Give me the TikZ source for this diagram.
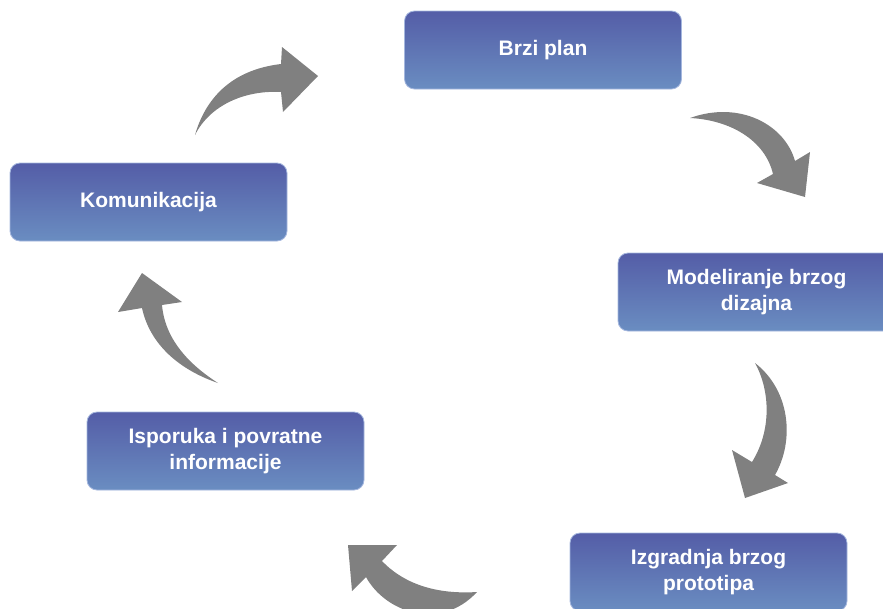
\documentclass[tikz,border=0pt]{standalone}
\usepackage{fontspec}
\setmainfont{Liberation Sans}
\usepackage{xcolor}
\definecolor{boxtop}{RGB}{84,93,167}
\definecolor{boxbot}{RGB}{106,141,193}
\definecolor{boxline}{RGB}{165,183,222}
\definecolor{arrowgray}{RGB}{128,128,128}
\begin{document}
\begin{tikzpicture}[x=1pt,y=-1pt]
\tikzstyle{phase}=[rectangle,rounded corners=10pt,minimum width=277pt,minimum height=78pt,
  top color=boxtop,bottom color=boxbot,draw=boxline,line width=0.8pt,
  text=white,align=center,font=\fontsize{21}{26}\selectfont\bfseries]
\tikzstyle{bigarrow}=[fill=arrowgray,draw=none]
\useasboundingbox (0,0) rectangle (883,608);
\clip (0,0) rectangle (883,608);

\node[phase] (plan)  at (543,50)    {Brzi plan};
\node[phase] (model) at (756.5,292) {Modeliranje brzog\\dizajna};
\node[phase] (izg)   at (708.5,572) {Izgradnja brzog\\prototipa};
\node[phase] (isp)   at (225.5,451) {Isporuka i povratne\\informacije};
\node[phase] (kom)   at (148.5,202) {Komunikacija};

\path[bigarrow] (195,135) .. controls (205,100) and (230,70) .. (281,64) -- (282,47) -- (318,76)
  -- (283,112) -- (281,92) .. controls (245,90) and (210,105) .. cycle;
\path[bigarrow] (690,118) .. controls (740,100) and (785,125) .. (795,161) -- (810,152) -- (805,197)
  -- (757,183) -- (773,174) .. controls (765,140) and (730,120) .. cycle;
\path[bigarrow] (755,363) .. controls (790,390) and (795,440) .. (775,475) -- (788,483) -- (745,498)
  -- (732,450) -- (752,462) .. controls (772,430) and (770,390) .. cycle;
\path[bigarrow] (477,592) .. controls (430,595) and (400,580) .. (382,561) -- (397,545) -- (348,545)
  -- (352,591) -- (366,577) .. controls (385,612) and (440,632) .. cycle;
\path[bigarrow] (218,383) .. controls (180,370) and (150,345) .. (142,308) -- (118,312) -- (142,273)
  -- (182,302) -- (162,305) .. controls (165,340) and (190,365) .. cycle;
\end{tikzpicture}
\end{document}
